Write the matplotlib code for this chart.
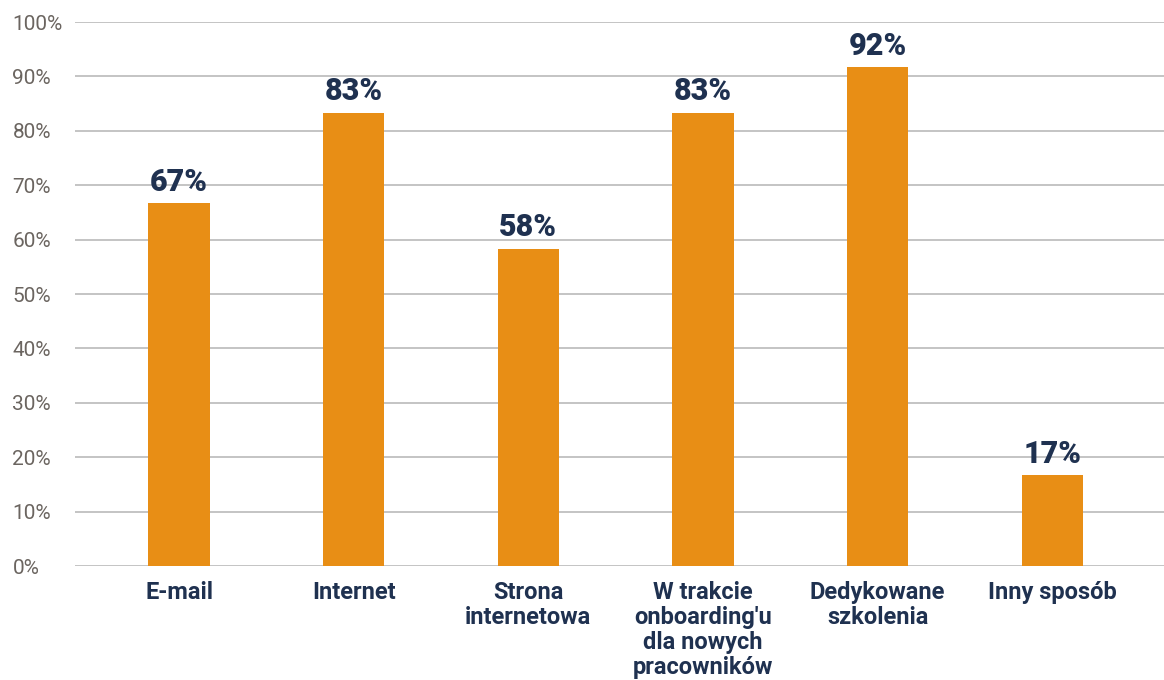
import numpy as np
import matplotlib as mpl
mpl.use('Agg')
import matplotlib.pyplot as plt

categories = ['E-mail', 'Internet', 'Strona\ninternetowa',
              "W trakcie\nonboarding'u\ndla nowych\npracowników",
              'Dedykowane\nszkolenia', 'Inny sposób']
shares = [66.7, 83.3, 58.3, 83.3, 91.7, 16.7]
y_ticks = [0, 10, 20, 30, 40, 50, 60, 70, 80, 90, 100]

bar_color = '#e88e15'
navy = '#1f3150'
grey_text = '#6b6560'

plt.rcParams['font.family'] = ['Roboto', 'DejaVu Sans']

fig = plt.figure(figsize=(11.64, 6.8), dpi=100)
ax = fig.add_axes([0.0644, 0.1676, 0.9356, 0.80])

x = np.arange(len(categories))
ax.bar(x, shares, width=0.35, color=bar_color, zorder=3)

for xi, v in zip(x, shares):
    ax.text(xi, v + 1.2, '%d%%' % round(v), ha='center', va='bottom',
            fontsize=22, fontweight='black', color=navy, zorder=4)

ax.set_xlim(-0.596, 5.64)
ax.set_ylim(0, 100)
ax.set_yticks(y_ticks)
ax.set_yticklabels(['%d%%' % t for t in y_ticks], ha='left')
ax.tick_params(axis='y', length=0, pad=45, labelsize=15, labelcolor=grey_text)
ax.set_xticks(x)
ax.set_xticklabels(categories, fontsize=17, fontweight='bold', color=navy,
                   linespacing=1.1)
ax.tick_params(axis='x', length=0, pad=11)

ax.grid(axis='y', color='#c4c4c4', linewidth=1.4, zorder=0)
for s in ax.spines.values():
    s.set_visible(False)

fig.savefig('out.png', dpi=100)
